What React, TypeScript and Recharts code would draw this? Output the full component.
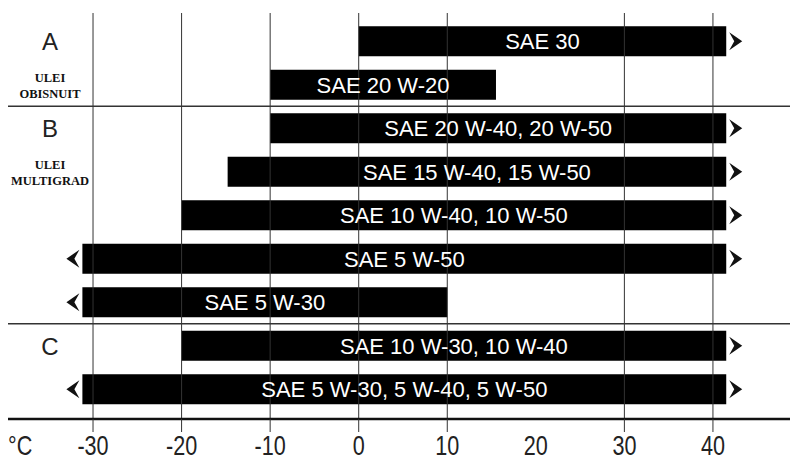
import { BarChart, Bar, XAxis, YAxis, ReferenceLine, LabelList } from 'recharts';

const OIL_GRADES = [
  'SAE 30',
  'SAE 20 W-20',
  'SAE 20 W-40, 20 W-50',
  'SAE 15 W-40, 15 W-50',
  'SAE 10 W-40, 10 W-50',
  'SAE 5 W-50',
  'SAE 5 W-30',
  'SAE 10 W-30, 10 W-40',
  'SAE 5 W-30, 5 W-40, 5 W-50',
];
// lowest / highest outside temperature (°C) for each grade
const MIN_TEMP = [0, -10, -10, -14.8, -20, -31.2, -31.2, -20, -31.2];
const MAX_TEMP = [41.5, 15.5, 41.5, 41.5, 41.5, 41.5, 10, 41.5, 41.5];
// arrows on the open ends
const OPEN_LOW = [false, false, false, false, false, true, true, false, true];
const OPEN_HIGH = [true, false, true, true, true, true, false, true, true];
const GROUP_LABELS = ['A', 'ULEI\nOBISNUIT', 'B', 'ULEI\nMULTIGRAD', '', '', '', 'C', ''];
const TEMP_TICKS = [-30, -20, -10, 0, 10, 20, 30, 40];
const GRID_LINES = [-30, -20, -10, 0, 10, 30, 40]; // the scan has no line at 20
const SECTION_ENDS = [1, 6]; // a rule is drawn under these rows

const rows = OIL_GRADES.map((grade, i) => ({
  grade,
  range: [MIN_TEMP[i], MAX_TEMP[i]],
  openLow: OPEN_LOW[i],
  openHigh: OPEN_HIGH[i],
}));

const SANS = '"Liberation Sans", Arial, sans-serif';
const SERIF = '"Liberation Serif", "Times New Roman", serif';

function RangeBar(props: any) {
  const { x, y, width, height, payload } = props;
  const cy = y + height / 2;
  const r = x + width;
  return (
    <g>
      <rect x={x} y={y} width={width} height={height} fill="#000" />
      {payload.openHigh && (
        <path d={`M${r + 3},${cy - 9} L${r + 16},${cy} L${r + 3},${cy + 9} L${r + 8},${cy} Z`} fill="#111" />
      )}
      {payload.openLow && (
        <path d={`M${x - 3},${cy - 9} L${x - 16},${cy} L${x - 3},${cy + 9} L${x - 8},${cy} Z`} fill="#111" />
      )}
    </g>
  );
}

function GroupTick(props: any) {
  const { y, payload } = props;
  const index = props.index ?? payload?.index ?? OIL_GRADES.indexOf(payload?.value);
  const label = GROUP_LABELS[index];
  if (!label) return <g />;
  if (label.includes('\n')) {
    const [a, b] = label.split('\n');
    return (
      <g style={{ fontFamily: SERIF, fontWeight: 700, fontSize: 12.5, fill: '#111' }}>
        <text x={50} y={y - 3} textAnchor="middle">{a}</text>
        <text x={50} y={y + 13} textAnchor="middle">{b}</text>
      </g>
    );
  }
  return (
    <text x={50} y={y + 9} textAnchor="middle" style={{ fontFamily: SANS, fontSize: 24, fill: '#222' }}>
      {label}
    </text>
  );
}

function TempTick({ x, y, payload }: any) {
  const drawn = GRID_LINES.includes(payload.value);
  return (
    <g>
      {drawn && <line x1={x} x2={x} y1={y - 13} y2={y} stroke="#333" strokeWidth={1} />}
      <g transform={`translate(${x},${y + 23}) scale(0.8,1)`}>
        <text textAnchor="middle" style={{ fontFamily: SANS, fontSize: 27, fill: '#222' }}>
          {payload.value}
        </text>
      </g>
    </g>
  );
}

function UnitLabel({ viewBox }: any) {
  return (
    <g transform={`translate(${viewBox.x},${viewBox.y + 36}) scale(0.8,1)`}>
      <text style={{ fontFamily: SANS, fontSize: 27, fill: '#222' }}>°C</text>
    </g>
  );
}

export default function App() {
  return (
    <div style={{ position: 'absolute', left: 0, top: 0, background: '#fff' }}>
      <BarChart
        layout="vertical"
        width={790}
        height={461}
        data={rows}
        margin={{ top: 13, right: 0, bottom: 0, left: 7 }}
        style={{ fontFamily: SANS }}
      >
        <XAxis
          type="number"
          domain={[-39.6, 48.7]}
          ticks={TEMP_TICKS}
          interval={0}
          allowDataOverflow
          height={42}
          axisLine={{ stroke: '#111', strokeWidth: 2.5 }}
          tickLine={false}
          tickSize={13}
          tickMargin={0}
          tick={<TempTick />}
          label={<UnitLabel />}
        />
        <YAxis
          type="category"
          dataKey="grade"
          width={1}
          padding={{ top: 6.25, bottom: 8.25 }}
          axisLine={false}
          tickLine={false}
          interval={0}
          tick={<GroupTick />}
        />
        {GRID_LINES.map((v) => (
          <ReferenceLine key={v} x={v} stroke="#333" strokeWidth={1} />
        ))}
        {SECTION_ENDS.map((i) => (
          <ReferenceLine key={i} y={OIL_GRADES[i]} position="end" stroke="#333" strokeWidth={1.5} />
        ))}
        <Bar dataKey="range" barSize={30} shape={<RangeBar />} isAnimationActive={false}>
          <LabelList
            dataKey="grade"
            position="center"
            fill="#fff"
            style={{ fontFamily: SANS, fontSize: 22, fill: '#fff' }}
          />
        </Bar>
      </BarChart>
    </div>
  );
}
